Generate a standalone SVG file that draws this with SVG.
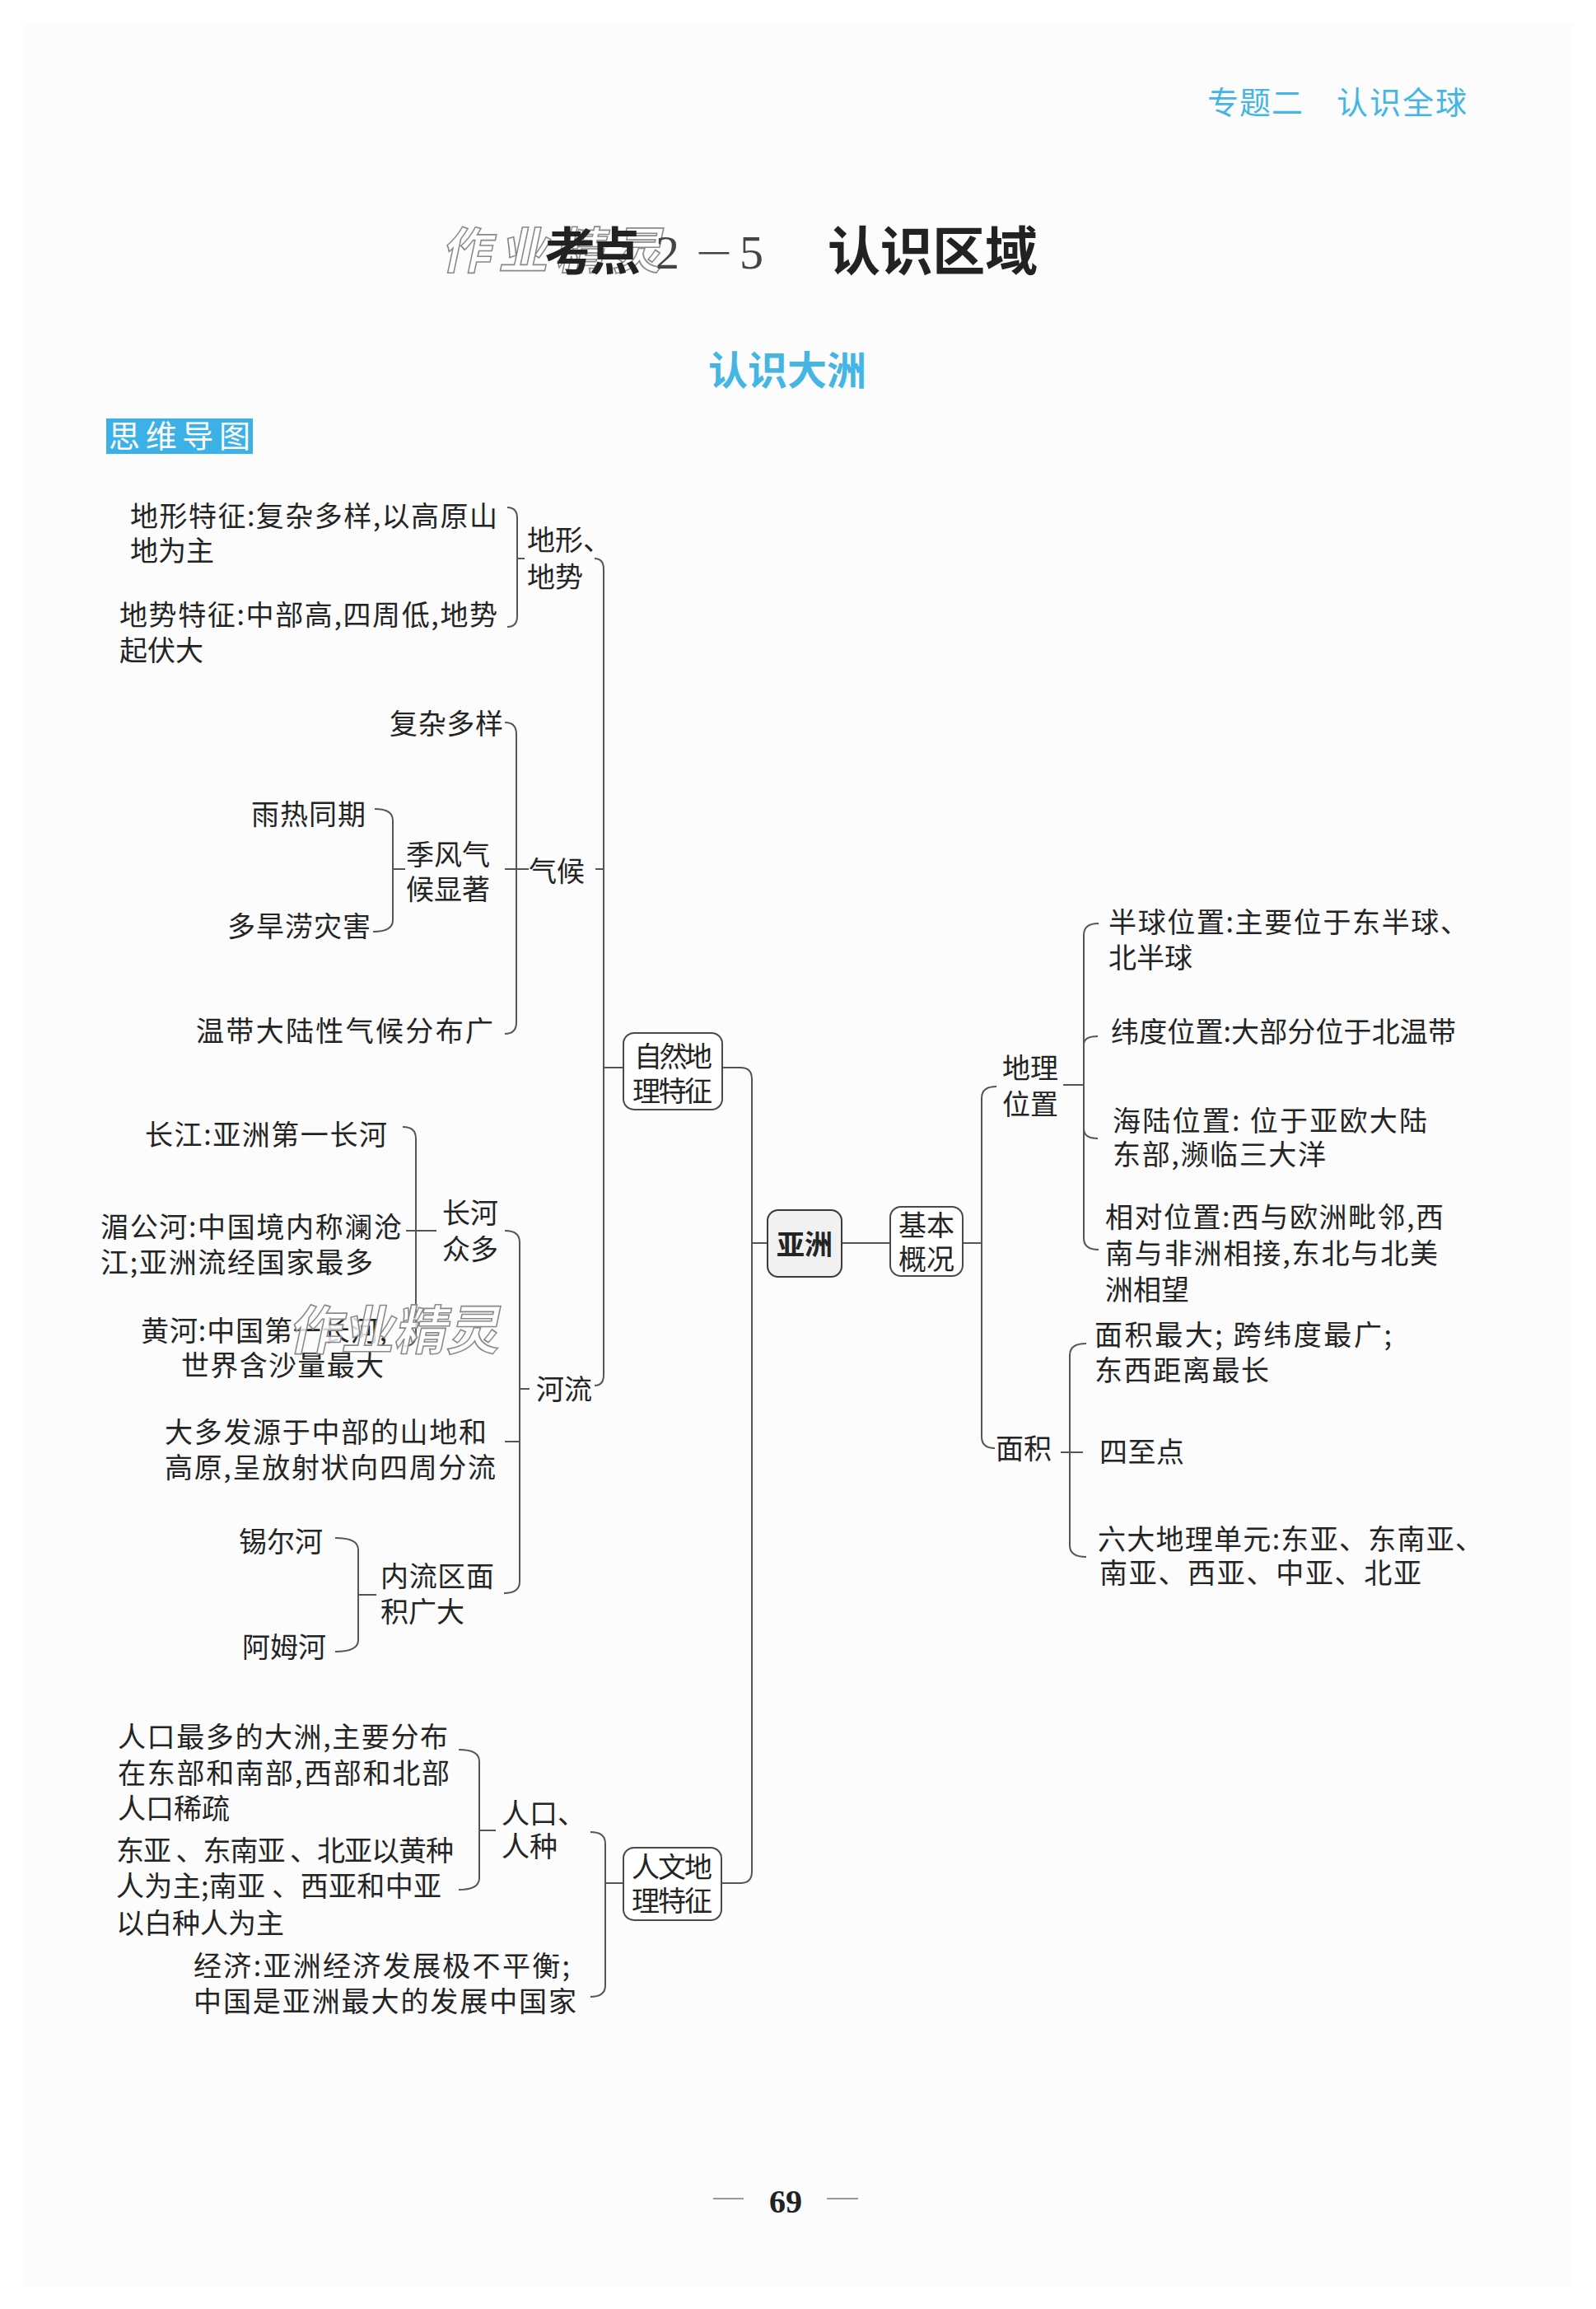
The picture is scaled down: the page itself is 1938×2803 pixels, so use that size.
<svg xmlns="http://www.w3.org/2000/svg" width="1938" height="2803" viewBox="0 0 1938 2803">
<style>
.t{font-family:"Noto Sans CJK SC","Noto Sans",sans-serif;font-size:34px;fill:#242424}
.ln{fill:none;stroke:#555;stroke-width:2}
.box{fill:#fff;stroke:#4a4a4a;stroke-width:2}
.wm{font-family:"Noto Sans CJK SC",sans-serif;font-weight:700;fill:#fff;fill-opacity:0.8;stroke:#8a8a8a;stroke-width:1.6}
.cyan{font-family:"Noto Sans CJK SC",sans-serif;fill:#45b5e3}
</style>
<rect x="0" y="0" width="1938" height="2803" fill="#ffffff"/>
<rect x="29" y="28" width="1880" height="2748" fill="#fcfcfc"/>

<g id="header">
<text class="cyan" x="1466" y="138" font-size="38" textLength="116">专题二</text>
<text class="cyan" x="1623" y="138" font-size="38" textLength="158">认识全球</text>
</g>

<g id="title">
<text class="wm" x="537" y="326" font-size="60" textLength="268" transform="skewX(-12) translate(68,0)">作业精灵</text>
<text x="661" y="328" font-family="Noto Sans CJK SC,sans-serif" font-size="62" font-weight="700" fill="#222" textLength="117">考点</text>
<text x="796" y="326" font-family="Liberation Serif,serif" font-size="58" fill="#444">2<tspan x="842" font-family="Noto Sans CJK SC,sans-serif" font-weight="300" font-size="50">－</tspan><tspan x="898">5</tspan></text>
<text x="1005" y="328" font-family="Noto Sans CJK SC,sans-serif" font-size="64" font-weight="700" fill="#222" textLength="255">认识区域</text>
</g>

<g id="subtitle">
<text class="cyan" x="956" y="467" font-size="48" font-weight="700" text-anchor="middle" fill="#2ea8e0">认识大洲</text>
</g>

<g id="label">
<rect x="129" y="508" width="178" height="43" fill="#3cb1e7"/>
<text x="132" y="543" font-family="Noto Sans CJK SC,sans-serif" font-size="38" fill="#fff" textLength="172">思维导图</text>
</g>

<g id="connectors">
<path class="ln" d="M616,616 Q628,616 628,629 V748 Q628,761 616,761 M628,678 H637"/>
<path class="ln" d="M722,678 Q733,678 733,691 V1669 Q733,1682 722,1682 M723,1055 H733 M733,1296 H757"/>
<path class="ln" d="M613,877 Q627,877 627,891 V1241 Q627,1255 613,1255 M613,1055 H642"/>
<path class="ln" d="M455,982 Q477,982 477,996 V1117 Q477,1131 453,1131 M477,1055 H492"/>
<path class="ln" d="M489,1368 Q505,1368 505,1382 V1620 Q505,1634 491,1634 M493,1494 H530"/>
<path class="ln" d="M613,1494 Q631,1494 631,1508 V1920 Q631,1934 612,1934 M631,1686 H643 M613,1750 H631"/>
<path class="ln" d="M407,1867 Q435,1867 435,1881 V1991 Q435,2005 407,2005 M435,1936 H457"/>
<path class="ln" d="M557,2124 Q582,2124 582,2138 V2280 Q582,2294 557,2294 M582,2222 H602"/>
<path class="ln" d="M717,2224 Q735,2224 735,2238 V2410 Q735,2424 717,2424 M735,2286 H757"/>
<path class="ln" d="M877,1296 H899 Q913,1296 913,1310 V2272 Q913,2286 899,2286 H876 M913,1509 H932"/>
<path class="ln" d="M1022,1509 H1081"/>
<path class="ln" d="M1169,1509 H1192 M1210,1319 Q1192,1319 1192,1333 V1744 Q1192,1758 1208,1758"/>
<path class="ln" d="M1334,1121 Q1316,1121 1316,1135 V1503 Q1316,1517 1334,1517 M1291,1317 H1316 M1316,1268 Q1316,1258 1333,1258 M1316,1370 Q1316,1382 1333,1382"/>
<path class="ln" d="M1319,1631 Q1299,1631 1299,1645 V1876 Q1299,1890 1319,1890 M1288,1763 H1315"/>
</g>

<g id="n-ziran">
<rect class="box" x="757" y="1254" width="120" height="93" rx="13"/>
<text class="t"><tspan x="770" y="1295" textLength="95">自然地</tspan><tspan x="768" y="1337" textLength="97">理特征</tspan></text>
</g>

<g id="n-renwen">
<rect class="box" x="757" y="2243" width="119" height="88" rx="13"/>
<text class="t"><tspan x="767" y="2279" textLength="98">人文地</tspan><tspan x="767" y="2320" textLength="98">理特征</tspan></text>
</g>

<g id="n-yazhou">
<rect x="932" y="1469" width="90" height="81" rx="13" fill="#f1f1f1" stroke="#3a3a3a" stroke-width="2"/>
<text class="t" x="977" y="1523" text-anchor="middle" font-weight="700">亚洲</text>
</g>

<g id="n-jiben">
<rect class="box" x="1081" y="1465" width="88" height="84" rx="13"/>
<text class="t" text-anchor="middle"><tspan x="1125" y="1500">基本</tspan><tspan x="1125" y="1541">概况</tspan></text>
</g>

<g id="n-dixing">
<text class="t"><tspan x="158" y="639" textLength="446">地形特征:复杂多样,以高原山</tspan><tspan x="158" y="681">地为主</tspan></text>
<text class="t"><tspan x="145" y="759" textLength="459">地势特征:中部高,四周低,地势</tspan><tspan x="145" y="802">起伏大</tspan></text>
<text class="t"><tspan x="640" y="668">地形、</tspan><tspan x="640" y="713">地势</tspan></text>
</g>

<g id="n-qihou">
<text class="t" x="473" y="891" textLength="138">复杂多样</text>
<text class="t" x="305" y="1001" textLength="139">雨热同期</text>
<text class="t"><tspan x="493" y="1050">季风气</tspan><tspan x="493" y="1092">候显著</tspan></text>
<text class="t" x="276" y="1137" textLength="174">多旱涝灾害</text>
<text class="t" x="642" y="1070">气候</text>
<text class="t" x="238" y="1264" textLength="361">温带大陆性气候分布广</text>
</g>

<g id="n-heliu">
<text class="t" x="176" y="1390" textLength="294">长江:亚洲第一长河</text>
<text class="t"><tspan x="122" y="1502" textLength="366">湄公河:中国境内称澜沧</tspan><tspan x="122" y="1545" textLength="331">江;亚洲流经国家最多</tspan></text>
<text class="t"><tspan x="537" y="1485">长河</tspan><tspan x="537" y="1529">众多</tspan></text>
<text class="t"><tspan x="171" y="1628" textLength="299">黄河:中国第一长河,</tspan><tspan x="220" y="1670" textLength="246">世界含沙量最大</tspan></text>
<text class="t" x="651" y="1699">河流</text>
<text class="t"><tspan x="200" y="1751" textLength="391">大多发源于中部的山地和</tspan><tspan x="200" y="1794" textLength="402">高原,呈放射状向四周分流</tspan></text>
<text class="t" x="290" y="1884">锡尔河</text>
<text class="t"><tspan x="462" y="1926" textLength="138">内流区面</tspan><tspan x="462" y="1969">积广大</tspan></text>
<text class="t" x="294" y="2012">阿姆河</text>
</g>

<g id="n-renkou">
<text class="t"><tspan x="143" y="2121" textLength="401">人口最多的大洲,主要分布</tspan><tspan x="143" y="2165" textLength="403">在东部和南部,西部和北部</tspan><tspan x="143" y="2208">人口稀疏</tspan></text>
<text class="t"><tspan x="141" y="2259" textLength="410">东亚 、东南亚 、北亚以黄种</tspan><tspan x="141" y="2302" textLength="395">人为主;南亚 、西亚和中亚</tspan><tspan x="141" y="2347">以白种人为主</tspan></text>
<text class="t"><tspan x="609" y="2214">人口、</tspan><tspan x="609" y="2254">人种</tspan></text>
<text class="t"><tspan x="235" y="2399" textLength="457">经济:亚洲经济发展极不平衡;</tspan><tspan x="235" y="2442" textLength="465">中国是亚洲最大的发展中国家</tspan></text>
</g>

<g id="n-weizhi">
<text class="t"><tspan x="1217" y="1309">地理</tspan><tspan x="1217" y="1353">位置</tspan></text>
<text class="t"><tspan x="1346" y="1132" textLength="437">半球位置:主要位于东半球、</tspan><tspan x="1346" y="1175">北半球</tspan></text>
<text class="t" x="1349" y="1265" textLength="419">纬度位置:大部分位于北温带</text>
<text class="t"><tspan x="1351" y="1373" textLength="382">海陆位置: 位于亚欧大陆</tspan><tspan x="1351" y="1414" textLength="259">东部,濒临三大洋</tspan></text>
<text class="t"><tspan x="1342" y="1490" textLength="411">相对位置:西与欧洲毗邻,西</tspan><tspan x="1342" y="1534" textLength="404">南与非洲相接,东北与北美</tspan><tspan x="1342" y="1578">洲相望</tspan></text>
</g>

<g id="n-mianji">
<text class="t" x="1209" y="1771">面积</text>
<text class="t"><tspan x="1329" y="1633" textLength="361">面积最大; 跨纬度最广;</tspan><tspan x="1329" y="1676" textLength="212">东西距离最长</tspan></text>
<text class="t" x="1335" y="1775" textLength="103">四至点</text>
<text class="t"><tspan x="1333" y="1881" textLength="468">六大地理单元:东亚、东南亚、</tspan><tspan x="1335" y="1922" textLength="391">南亚、西亚、中亚、北亚</tspan></text>
</g>

<g id="watermark">
<text class="wm" x="350" y="1638" font-size="64" textLength="256" transform="skewX(-12) translate(348,0)">作业精灵</text>
</g>

<g id="pageno">
<path d="M866,2669 H903 M1004,2669 H1042" stroke="#999" stroke-width="2"/>
<text x="954" y="2686" text-anchor="middle" font-family="Liberation Serif,serif" font-weight="700" font-size="40" fill="#222">69</text>
</g>
</svg>
